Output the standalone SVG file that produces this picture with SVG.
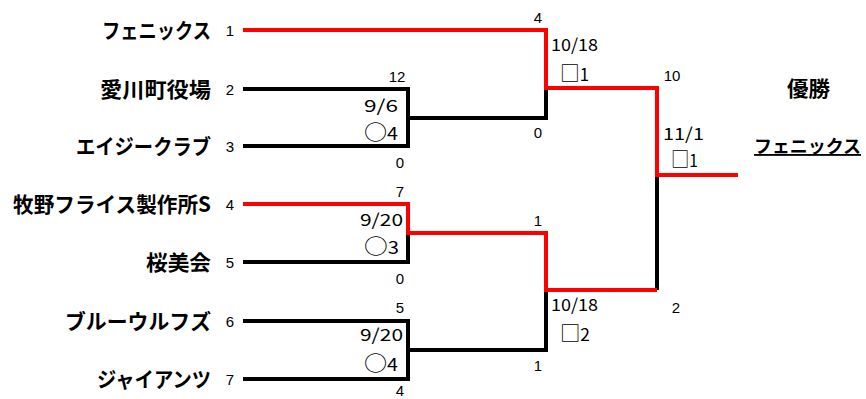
<svg xmlns="http://www.w3.org/2000/svg" width="866" height="399" viewBox="0 0 866 399">
<style>
.name{font-family:"Noto Sans CJK JP","Liberation Sans",sans-serif;font-weight:bold;font-size:21px;fill:#000;text-anchor:end}
.seed{font-family:"Liberation Sans",sans-serif;font-size:15px;fill:#000;text-anchor:middle}
.score{font-family:"Liberation Sans",sans-serif;font-size:15px;fill:#000;text-anchor:middle}
.date{font-family:"Noto Sans CJK JP","Liberation Sans",sans-serif;font-size:17px;fill:#000}
.sym{font-size:20px}
.blk{fill:none;stroke:#000;stroke-width:4;stroke-linejoin:miter;stroke-linecap:butt}
.red{fill:none;stroke:#ff0000;stroke-width:4;stroke-linejoin:miter;stroke-linecap:butt}
</style>
<rect width="866" height="399" fill="#fff"/>
<g id="connectors">
<path class="blk" d="M243 89 H408 V146 H243 M408 118 H546 V88"/>
<path class="blk" d="M408 233 V262 H243"/>
<path class="blk" d="M243 321 H408 V379 H243 M408 350 H546 V290"/>
<path class="blk" d="M657 175 V290"/>
<path class="red" d="M243 30 H546 V88 H657 V175 H738"/>
<path class="red" d="M243 204 H408 V233 H546 V290 H657"/>
</g>
<g id="team1"><text class="name" x="211" y="38" textLength="109" lengthAdjust="spacingAndGlyphs">フェニックス</text><text class="seed" x="230" y="36">1</text></g>
<g id="team2"><text class="name" x="211" y="97" textLength="111" lengthAdjust="spacingAndGlyphs">愛川町役場</text><text class="seed" x="230" y="95">2</text></g>
<g id="team3"><text class="name" x="211" y="154" textLength="135" lengthAdjust="spacingAndGlyphs">エイジークラブ</text><text class="seed" x="230" y="152">3</text></g>
<g id="team4"><text class="name" x="211" y="212" textLength="198" lengthAdjust="spacingAndGlyphs">牧野フライス製作所S</text><text class="seed" x="230" y="210">4</text></g>
<g id="team5"><text class="name" x="211" y="270" textLength="65" lengthAdjust="spacingAndGlyphs">桜美会</text><text class="seed" x="230" y="268">5</text></g>
<g id="team6"><text class="name" x="211" y="329" textLength="146" lengthAdjust="spacingAndGlyphs">ブルーウルフズ</text><text class="seed" x="230" y="327">6</text></g>
<g id="team7"><text class="name" x="211" y="387" textLength="114" lengthAdjust="spacingAndGlyphs">ジャイアンツ</text><text class="seed" x="230" y="385">7</text></g>
<g id="match1">
<text class="score" x="397" y="82">12</text><text class="score" x="400" y="168">0</text>
<text class="date" x="364" y="112" textLength="34" lengthAdjust="spacingAndGlyphs">9/6</text>
<text class="date" x="364" y="140" textLength="34" lengthAdjust="spacingAndGlyphs"><tspan class="sym">○</tspan>4</text>
</g>
<g id="match2">
<text class="score" x="400" y="197">7</text><text class="score" x="400" y="284">0</text>
<text class="date" x="360" y="226" textLength="43" lengthAdjust="spacingAndGlyphs">9/20</text>
<text class="date" x="364" y="254" textLength="35" lengthAdjust="spacingAndGlyphs"><tspan class="sym">○</tspan>3</text>
</g>
<g id="match3">
<text class="score" x="400" y="313">5</text><text class="score" x="400" y="396">4</text>
<text class="date" x="360" y="341" textLength="43" lengthAdjust="spacingAndGlyphs">9/20</text>
<text class="date" x="364" y="371" textLength="34" lengthAdjust="spacingAndGlyphs"><tspan class="sym">○</tspan>4</text>
</g>
<g id="semi1">
<text class="score" x="538" y="23">4</text><text class="score" x="538" y="138">0</text>
<text class="date" x="551" y="51" textLength="47" lengthAdjust="spacingAndGlyphs">10/18</text>
<text class="date" x="560" y="81" textLength="29" lengthAdjust="spacingAndGlyphs"><tspan class="sym">□</tspan>1</text>
</g>
<g id="semi2">
<text class="score" x="538" y="226">1</text><text class="score" x="538" y="371">1</text>
<text class="date" x="551" y="311" textLength="47" lengthAdjust="spacingAndGlyphs">10/18</text>
<text class="date" x="560" y="341" textLength="30" lengthAdjust="spacingAndGlyphs"><tspan class="sym">□</tspan>2</text>
</g>
<g id="final">
<text class="score" x="672" y="81">10</text><text class="score" x="676" y="313">2</text>
<text class="date" x="663" y="140" textLength="41" lengthAdjust="spacingAndGlyphs">11/1</text>
<text class="date" x="671" y="167" textLength="27" lengthAdjust="spacingAndGlyphs"><tspan class="sym">□</tspan>1</text>
</g>
<g id="winner">
<text class="name" x="830" y="96" textLength="43" lengthAdjust="spacingAndGlyphs">優勝</text>
<text class="name" x="754" y="153" style="text-anchor:start;font-size:18.5px" textLength="107" lengthAdjust="spacingAndGlyphs" text-decoration="underline">フェニックス</text>
</g>
</svg>
